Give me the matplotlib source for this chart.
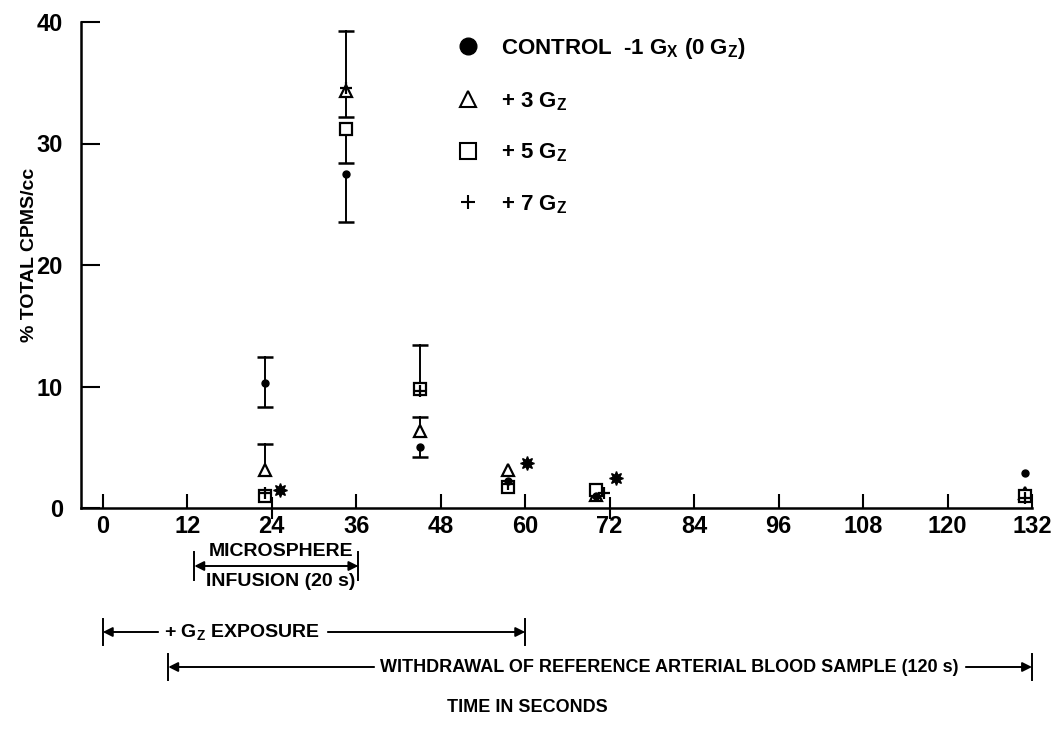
import matplotlib
matplotlib.use("Agg")
import matplotlib.pyplot as plt
import matplotlib.transforms as mtransforms
from matplotlib.lines import Line2D

plt.rcParams['font.family'] = ['Liberation Sans', 'DejaVu Sans']
plt.rcParams['font.weight'] = 'bold'
plt.rcParams['mathtext.default'] = 'bf'
plt.rcParams['mathtext.fontset'] = 'custom'
plt.rcParams['mathtext.bf'] = 'Liberation Sans:bold'
plt.rcParams['mathtext.rm'] = 'Liberation Sans:bold'

# Zeitpunkte der Messungen (s)
zeit = [23, 34.5, 45, 57.5, 70, 131]
zeit_g7 = [23, 34.5, 45, 57.5, 71.2, 131]

# Kontrolle -1 Gx
kontrolle = [10.3, 27.5, 5.0, 2.2, 1.0, 2.9]
kontrolle_unten = [2.0, 4.0, 0.8, 0, 0, 0]
kontrolle_oben = [2.1, 0, 0, 0, 0, 0]

# +3 Gz
g3 = [3.1, 34.3, 6.3, 3.1, 1.1, 1.2]
g3_unten = [0, 2.1, 0, 0, 0, 0]
g3_oben = [2.2, 0, 1.2, 0, 0, 0]

# +5 Gz
g5 = [1.0, 31.2, 9.8, 1.7, 1.5, 1.0]
g5_unten = [0, 2.8, 0, 0, 0, 0]
g5_oben = [0, 0, 3.6, 0, 0, 0]

# +7 Gz
g7 = [1.2, 34.6, 9.6, 2.0, 1.2, 0.8]
g7_unten = [0, 0, 0, 0, 0, 0]
g7_oben = [0, 4.7, 0, 0, 0, 0]

# Signifikanz-Sterne
stern_x = [25.2, 60.2, 72.9]
stern_y = [1.5, 3.7, 2.5]

x_ticks = [0, 12, 24, 36, 48, 60, 72, 84, 96, 108, 120, 132]
y_ticks = [0, 10, 20, 30, 40]

fig = plt.figure(figsize=(10.54, 7.48), dpi=100)
ax = fig.add_axes([81 / 1054, 1 - 508 / 748, (1032 - 81) / 1054, (508 - 22) / 748])


def fehlerbalken(xs, ys, unten, oben):
    for xi, yi, u, o in zip(xs, ys, unten, oben):
        if u > 0:
            ax.plot([xi, xi], [yi - u, yi], color='black', lw=1.4)
            ax.plot(xi, yi - u, marker='_', ms=11, mew=1.8, color='black')
        if o > 0:
            ax.plot([xi, xi], [yi, yi + o], color='black', lw=1.4)
            ax.plot(xi, yi + o, marker='_', ms=11, mew=1.8, color='black')


fehlerbalken(zeit, kontrolle, kontrolle_unten, kontrolle_oben)
fehlerbalken(zeit, g3, g3_unten, g3_oben)
fehlerbalken(zeit, g5, g5_unten, g5_oben)
fehlerbalken(zeit_g7, g7, g7_unten, g7_oben)

ax.plot(zeit, g3, ls='none', marker='^', ms=9, mfc='white', mec='black', mew=1.6)
ax.plot(zeit, g5, ls='none', marker='s', ms=8, mfc='white', mec='black', mew=1.6)
ax.plot(zeit_g7, g7, ls='none', marker='+', ms=8, color='black', mew=1.6)
ax.plot(zeit, kontrolle, ls='none', marker='o', ms=5, color='black')
ax.plot(stern_x, stern_y, ls='none', marker=(8, 1, 0), ms=10, color='black')

ax.set_xlim(-3.1, 132)
ax.set_ylim(0, 40)
ax.set_xticks(x_ticks)
ax.set_yticks(y_ticks)
ax.tick_params(axis='both', direction='in', width=1.5, labelsize=17, colors='black')
ax.tick_params(axis='x', length=10, pad=5)
ax.tick_params(axis='y', length=14, pad=13)
for lab in ax.get_xticklabels() + ax.get_yticklabels():
    lab.set_fontweight('bold')
# Kreuzende Striche bei 24 und 72
for i in (2, 6):
    t = ax.xaxis.get_major_ticks()[i]
    t.tick1line.set_marker('|')
    t.tick1line.set_markersize(16)
ax.spines['top'].set_visible(False)
ax.spines['right'].set_visible(False)
ax.spines['left'].set_linewidth(1.8)
ax.spines['bottom'].set_linewidth(1.8)

ax.set_ylabel('% TOTAL CPMS/cc', fontsize=14, fontweight='bold')
ax.yaxis.set_label_coords(-0.045, 0.52)

handles = [
    Line2D([], [], ls='none', marker='o', ms=12, color='black'),
    Line2D([], [], ls='none', marker='^', ms=12, mfc='white', mec='black', mew=1.5),
    Line2D([], [], ls='none', marker='s', ms=11, mfc='white', mec='black', mew=1.5),
    Line2D([], [], ls='none', marker='+', ms=10, color='black', mew=1.5),
]
labels = [r'CONTROL  -1 G$_X$ (0 G$_Z$)', r'+ 3 G$_Z$', r'+ 5 G$_Z$', r'+ 7 G$_Z$']
ax.legend(handles, labels, loc='upper left', bbox_to_anchor=(0.372, 1.012), frameon=False,
          prop={'size': 16, 'weight': 'bold'}, labelspacing=1.3, handletextpad=0.9,
          handlelength=1.2)

# Beschriftungen unterhalb der Achse
tr = mtransforms.blended_transform_factory(ax.transData, fig.transFigure)


def fy(p):
    return 1 - p / 748


def zeitpfeil(x0, x1, y, h):
    ax.annotate('', xy=(x0, fy(y)), xytext=(x1, fy(y)), xycoords=tr, textcoords=tr,
                arrowprops=dict(arrowstyle='<|-|>', color='black', lw=1.4,
                                mutation_scale=14, shrinkA=0, shrinkB=0))
    for xe in (x0, x1):
        ax.plot([xe, xe], [fy(y - h), fy(y + h)], transform=tr, color='black',
                lw=1.4, clip_on=False)


zeitpfeil(13.0, 36.3, 566, 14)
ax.text(25.3, fy(551), 'MICROSPHERE', transform=tr, ha='center', va='center',
        fontsize=14, fontweight='bold')
ax.text(25.3, fy(582), 'INFUSION (20 s)', transform=tr, ha='center', va='center',
        fontsize=14, fontweight='bold')

zeitpfeil(0, 60, 632, 13)
ax.text(19.8, fy(632), r'+ G$_Z$ EXPOSURE', transform=tr, ha='center', va='center',
        fontsize=14, fontweight='bold', backgroundcolor='white')

zeitpfeil(9.3, 132, 667, 13)
ax.text(80.5, fy(667), 'WITHDRAWAL OF REFERENCE ARTERIAL BLOOD SAMPLE (120 s)', transform=tr,
        ha='center', va='center', fontsize=13, fontweight='bold', backgroundcolor='white')

ax.text(60.3, fy(707), 'TIME IN SECONDS', transform=tr, ha='center', va='center',
        fontsize=13, fontweight='bold')

fig.savefig('out.png', dpi=100, facecolor='white')
